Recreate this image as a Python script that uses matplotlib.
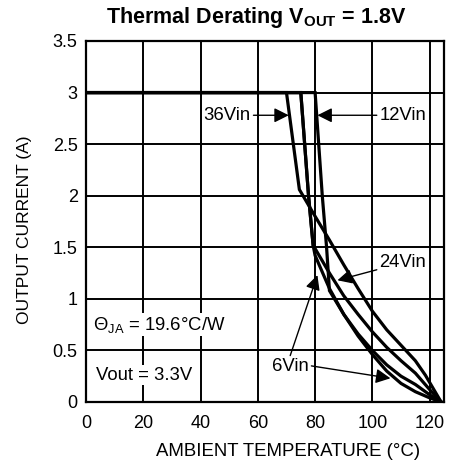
import matplotlib
matplotlib.use("Agg")
import matplotlib.pyplot as plt

plt.rcParams['font.family'] = ['Liberation Sans', 'DejaVu Sans']
plt.rcParams['mathtext.fontset'] = 'custom'
plt.rcParams['mathtext.rm'] = 'Liberation Sans'
plt.rcParams['mathtext.bf'] = 'Liberation Sans:bold'

# derating curves (temperature degC, current A)
t_36 = [0, 70, 74.5, 80, 85, 90, 95, 100, 105, 110, 115, 118.5, 124]
i_36 = [3, 3, 2.06, 1.80, 1.57, 1.33, 1.10, 0.88, 0.70, 0.55, 0.40, 0.26, 0.0]

t_24 = [0, 75, 77.7, 79.3, 85, 90, 95, 100, 105, 110, 115, 120, 124]
i_24 = [3, 3, 2.0, 1.52, 1.25, 1.03, 0.85, 0.68, 0.53, 0.40, 0.28, 0.12, 0.0]

t_6 = [0, 75, 77.7, 79.3, 80, 85, 90, 95, 100, 105, 110, 115, 120, 124]
i_6 = [3, 3, 2.0, 1.52, 1.42, 1.10, 0.85, 0.66, 0.50, 0.36, 0.25, 0.17, 0.07, 0.0]

t_12 = [0, 80, 82.5, 84, 85, 90, 95, 100, 105, 110, 115, 120, 124]
i_12 = [3, 3, 2.0, 1.5, 1.08, 0.85, 0.64, 0.46, 0.30, 0.18, 0.10, 0.04, 0.0]

xticks = [0, 20, 40, 60, 80, 100, 120]
yticks = [0, 0.5, 1, 1.5, 2, 2.5, 3, 3.5]
ylabels = ['0', '0.5', '1', '1.5', '2', '2.5', '3', '3.5']

fig = plt.figure(figsize=(4.49, 4.68), dpi=100)
ax = fig.add_axes([86/449, 66/468, 358/449, 361/468])

for t, i in [(t_36, i_36), (t_24, i_24), (t_6, i_6), (t_12, i_12)]:
    ax.plot(t, i, color='black', lw=2.3, solid_joinstyle='miter', zorder=3)

ax.set_xlim(0, 125)
ax.set_ylim(0, 3.5)
ax.set_xticks(xticks)
ax.set_yticks(yticks)
ax.set_yticklabels(ylabels)
ax.grid(True, color='black', lw=1.4)
ax.tick_params(length=0, labelsize=13)
ax.tick_params(axis='x', pad=9)
ax.tick_params(axis='y', pad=6)
for s in ax.spines.values():
    s.set_linewidth(1.6)

fs = 13.3
arr = dict(arrowstyle='-|>', color='black', lw=1.0, mutation_scale=22, shrinkA=0, shrinkB=0)
ax.annotate('36Vin', xy=(70.8, 2.78), xytext=(57.5, 2.78), fontsize=fs,
            ha='right', va='center', arrowprops=arr, zorder=4)
ax.annotate('12Vin', xy=(80.8, 2.78), xytext=(102.5, 2.78), fontsize=fs,
            ha='left', va='center', arrowprops=arr, zorder=4)
ax.annotate('24Vin', xy=(87.8, 1.18), xytext=(102.5, 1.35), fontsize=fs,
            ha='left', va='center', arrowprops=arr, zorder=4)
ax.text(71.2, 0.34, '6Vin', fontsize=fs, ha='center', va='center', zorder=4)
ax.annotate('', xy=(80.8, 1.23), xytext=(71.3, 0.45), arrowprops=arr, zorder=4)
ax.annotate('', xy=(106.3, 0.23), xytext=(78.7, 0.35), arrowprops=arr, zorder=4)

ax.text(2.4, 0.75, r'$\Theta_{\rm JA}$ = 19.6°C/W', fontsize=fs, ha='left', va='center',
        bbox=dict(facecolor='white', edgecolor='none', pad=1), zorder=4)
ax.text(3.6, 0.26, 'Vout = 3.3V', fontsize=fs, ha='left', va='center',
        bbox=dict(facecolor='white', edgecolor='none', pad=1), zorder=4)

fig.text(256/449, 1 - 17/468, r'Thermal Derating V$_{\mathbf{OUT}}$ = 1.8V',
         fontsize=15.5, fontweight='bold', ha='center', va='center')
fig.text(25/449, 1 - 230/468, 'OUTPUT CURRENT (A)', fontsize=12.5,
         rotation=90, ha='center', va='center')
fig.text(288/449, 1 - 452/468, 'AMBIENT TEMPERATURE (°C)', fontsize=13.4,
         ha='center', va='center')

fig.savefig('out.png', dpi=100)
